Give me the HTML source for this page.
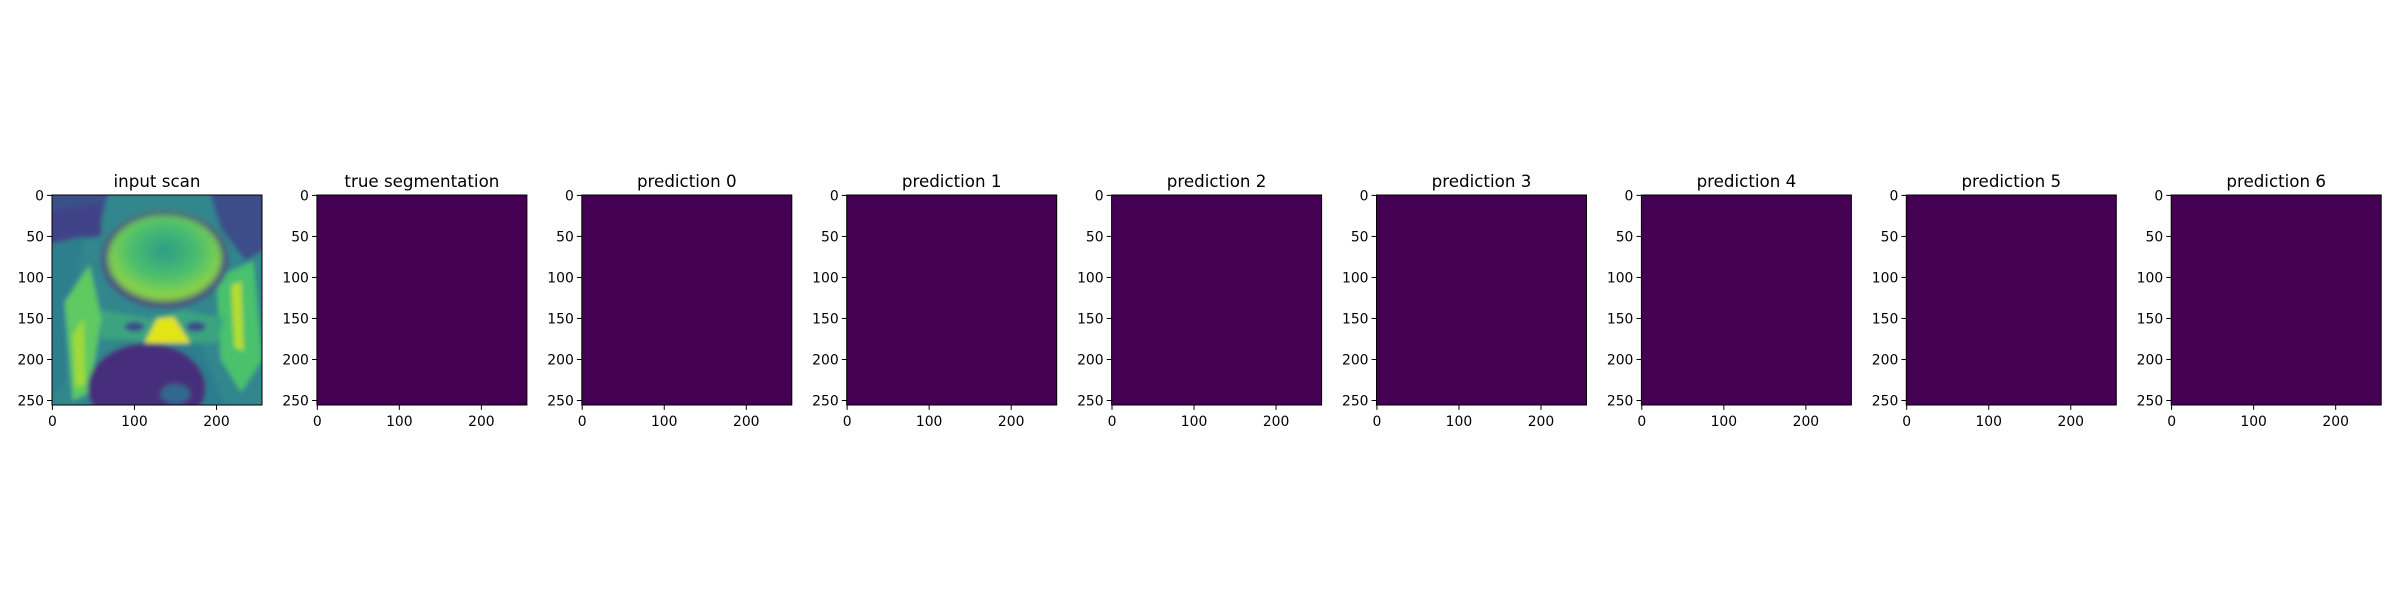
<!DOCTYPE html>
<html><head><meta charset="utf-8"><style>
html,body{margin:0;padding:0;background:#fff;}
svg text{font-family:"DejaVu Sans","Liberation Sans",sans-serif;fill:#000;}
</style></head><body>
<svg id="fig" xmlns="http://www.w3.org/2000/svg" width="2400" height="600" viewBox="0 0 2400 600">
<defs>
<filter id="blur3" x="-20%" y="-20%" width="140%" height="140%"><feGaussianBlur stdDeviation="3"/></filter>
<filter id="blur6" x="-20%" y="-20%" width="140%" height="140%"><feGaussianBlur stdDeviation="5"/></filter>
<radialGradient id="boneGrad" cx="0.5" cy="0.42" r="0.55">
<stop offset="0" stop-color="#2c9c88"/><stop offset="0.55" stop-color="#4cbf6d"/><stop offset="1" stop-color="#95d840"/>
</radialGradient>
<clipPath id="scanClip"><rect x="-0.5" y="-0.5" width="256" height="256"/></clipPath>
</defs>
<rect x="0" y="0" width="2400" height="600" fill="#ffffff"/>
</svg>
<script>
const titles = ["input scan","true segmentation","prediction 0","prediction 1","prediction 2","prediction 3","prediction 4","prediction 5","prediction 6"];
const xTicks = [0,100,200];
const yTicks = [0,50,100,150,200,250];
const imgSize = 256;
// segmentation masks: all zero (uniform class 0)
const maskValues = [0,0,0,0,0,0,0,0];
const NS = "http://www.w3.org/2000/svg";
const svg = document.getElementById('fig');
const panelLeft0 = 52, panelPitch = 264.9, panelW = 210, panelTop = 195;
const viridis = v => v <= 0 ? "#440154" : "#fde725";
function mk(tag, attrs, parent){const e=document.createElementNS(NS,tag);for(const k in attrs)e.setAttribute(k,attrs[k]);(parent||svg).appendChild(e);return e;}
titles.forEach((t,i)=>{
  const x0 = panelLeft0 + i*panelPitch;
  const sc = panelW/imgSize;
  const sx = v => x0 + (v+0.5)*sc;
  const sy = v => panelTop + (v+0.5)*sc;
  const g = mk('g',{});
  
  
  if(i===0){
    const ig = mk('g',{transform:`translate(${x0},${panelTop}) scale(${sc}) translate(0.5,0.5)`},g);
    
    
    const c = mk('g',{'clip-path':'url(#scanClip)'},ig);
    mk('rect',{x:-0.5,y:-0.5,width:256,height:256,fill:'#2f8a8c'},c);
    const b = mk('g',{filter:'url(#blur3)'},c);
    mk('rect',{x:-10,y:-10,width:280,height:280,fill:'#31868d'},b);
    mk('path',{d:'M-10 -10 L70 -10 L55 50 L-10 55 Z',fill:'#3b4f8a'},b);
    mk('path',{d:'M190 -10 L270 -10 L270 60 L235 80 L205 40 Z',fill:'#3c4d8a'},b);
    mk('path',{d:'M-10 20 L60 10 L60 50 L-10 60 Z',fill:'#404388'},b);
    mk('path',{d:'M-5 60 L40 50 L25 120 L15 230 L-5 250 Z',fill:'#2e7f8e'},b);
    mk('path',{d:'M15 130 L45 85 L60 150 L45 240 L25 250 Z',fill:'#5ec962'},b);
    mk('path',{d:'M25 170 L38 150 L40 230 L28 235 Z',fill:'#a0da39'},b);
    mk('path',{d:'M200 100 L245 80 L256 200 L230 240 L205 200 Z',fill:'#4ac16d'},b);
    mk('path',{d:'M218 110 L230 105 L233 190 L222 185 Z',fill:'#b5de2b'},b);
    mk('path',{d:'M60 140 L120 150 L160 140 L210 150 L200 180 L60 175 Z',fill:'#3aa47f'},b);
    mk('ellipse',{cx:100,cy:160,rx:12,ry:6,fill:'#3e4a89'},b);
    mk('ellipse',{cx:175,cy:160,rx:12,ry:6,fill:'#3e4a89'},b);
    mk('path',{d:'M95 182 L180 182 L210 256 L40 256 Z',fill:'#2c7e8e'},b);
    mk('ellipse',{cx:137,cy:78,rx:78,ry:60,fill:'#3f4788'},b);
    mk('path',{d:'M128 150 L148 148 L168 180 L112 180 Z',fill:'#e2e418'},b);
    mk('ellipse',{cx:115,cy:235,rx:72,ry:55,fill:'#462f7c'},b);
    mk('ellipse',{cx:150,cy:242,rx:18,ry:12,fill:'#31688e'},b);
    const b2 = mk('g',{filter:'url(#blur6)'},c);
    mk('ellipse',{cx:137,cy:76,rx:71,ry:54,fill:'url(#boneGrad)'},b2);
    mk('rect',{x:-0.5,y:-0.5,width:256,height:256,fill:'none',stroke:'#000',"stroke-width":1/sc},ig);
  } else {
    const r = mk('rect',{x:x0,y:panelTop,width:panelW,height:panelW,fill:viridis(maskValues[i-1])},g);
    
    
    mk('rect',{x:x0,y:panelTop,width:panelW,height:panelW,fill:'none',stroke:'#000','stroke-width':1},g);
  }
  const tt = mk('text',{x:x0+panelW/2,y:panelTop-8,'text-anchor':'middle','font-size':'16.7px'},g);
  tt.textContent = t;
  
  
  xTicks.forEach(v=>{
    mk('line',{x1:sx(v),x2:sx(v),y1:panelTop+panelW,y2:panelTop+panelW+4.9,stroke:'#000','stroke-width':1},g);
    const tl = mk('text',{x:sx(v),y:panelTop+panelW+21,'text-anchor':'middle','font-size':'13.9px'},g);
    tl.textContent = v;
    
    
  });
  yTicks.forEach(v=>{
    mk('line',{x1:x0-4.9,x2:x0,y1:sy(v),y2:sy(v),stroke:'#000','stroke-width':1},g);
    const tl = mk('text',{x:x0-8,y:sy(v)+5,'text-anchor':'end','font-size':'13.9px'},g);
    tl.textContent = v;
    
    
  });
});
</script>
</body></html>
